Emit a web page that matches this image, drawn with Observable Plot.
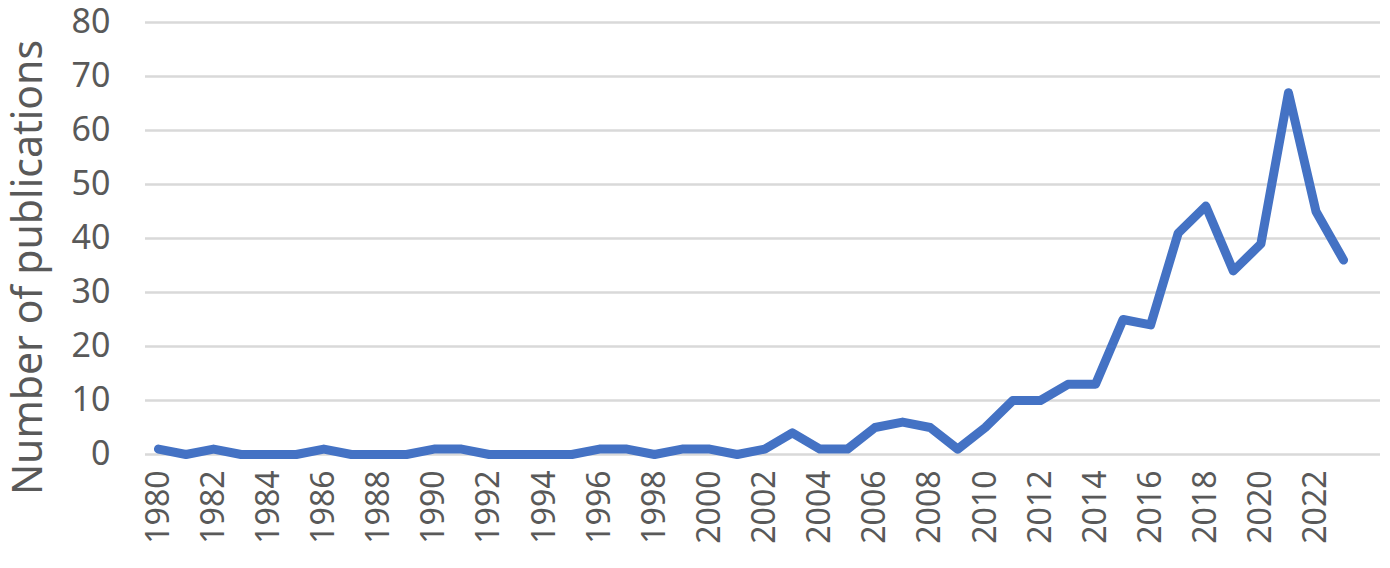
<!DOCTYPE html>
<html>
<head>
<meta charset="utf-8">
<script src="https://cdn.jsdelivr.net/npm/d3@7"></script>
<script src="https://cdn.jsdelivr.net/npm/@observablehq/plot@0.6"></script>
<style>
  html, body { margin: 0; padding: 0; background: #fff; }
  #chart svg { display: block; }
</style>
</head>
<body>
<div id="chart"></div>
<script>
const years = d3.range(1980, 2024);
const publications = [1, 0, 1, 0, 0, 0, 1, 0, 0, 0, 1, 1, 0, 0, 0, 0, 1, 1, 0, 1, 1, 0, 1, 4, 1, 1, 5, 6, 5, 1, 5, 10, 10, 13, 13, 25, 24, 41, 46, 34, 39, 67, 45, 36];
const yTicks = [0, 10, 20, 30, 40, 50, 60, 70, 80];
const xTicks = d3.range(1980, 2024, 2);
const yLabel = "Number of publications";

const data = years.map((year, i) => ({year, count: publications[i]}));

const textColor = "#595959";
const font = "'Noto Sans', 'Liberation Sans', sans-serif";

const chart = Plot.plot({
  width: 1390,
  height: 568,
  marginLeft: 145,
  marginRight: 10,
  marginTop: 22,
  marginBottom: 114,
  style: {fontFamily: font, color: textColor, background: "#fff"},
  x: {domain: [1979.53, 2024.34]},
  y: {domain: [0, 80]},
  marks: [
    Plot.ruleY(yTicks, {stroke: "#d9d9d9", strokeWidth: 2.5}),
    Plot.axisY({ticks: yTicks, tickSize: 0, tickPadding: 35, fontSize: 34, label: null, fill: textColor}),
    Plot.axisX({ticks: xTicks, tickSize: 0, tickPadding: 16, tickRotate: -90, fontSize: 32, label: null, tickFormat: d => String(d), fill: textColor}),
    Plot.text([yLabel], {frameAnchor: "left", textAnchor: "middle", rotate: -90, dx: -117, dy: 29, fontSize: 41, fill: textColor, text: d => d}),
    Plot.line(data, {x: "year", y: "count", stroke: "#4472C4", strokeWidth: 9, strokeLinecap: "round", strokeLinejoin: "round"})
  ]
});
document.getElementById("chart").appendChild(chart);
</script>
</body>
</html>
